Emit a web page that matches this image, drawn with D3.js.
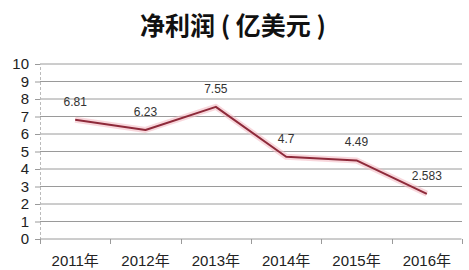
<!DOCTYPE html>
<html>
<head>
<meta charset="utf-8">
<script src="https://cdn.jsdelivr.net/npm/d3@7"></script>
<style>
  body { margin: 0; background: #fff; }
  svg { display: block; }
</style>
</head>
<body>
<div id="chart"></div>
<script>
var years = ["2011年", "2012年", "2013年", "2014年", "2015年", "2016年"];
var profit = [6.81, 6.23, 7.55, 4.7, 4.49, 2.583];
var profitLabels = ["6.81", "6.23", "7.55", "4.7", "4.49", "2.583"];
var yTicks = [0, 1, 2, 3, 4, 5, 6, 7, 8, 9, 10];

var svgWidth = 469;
var svgHeight = 270;
var margin = { top: 64, right: 7, bottom: 31, left: 40 };
var width = svgWidth - margin.left - margin.right;
var height = svgHeight - margin.top - margin.bottom;

var svg = d3.select("#chart")
  .append("svg")
  .attr("width", svgWidth)
  .attr("height", svgHeight);

// title
svg.append("text")
  .attr("x", 233)
  .attr("y", 35)
  .attr("text-anchor", "middle")
  .attr("font-family", "Noto Sans CJK SC")
  .attr("font-weight", "bold")
  .attr("font-size", 25)
  .attr("fill", "#111")
  .attr("xml:space", "preserve")
  .style("white-space", "pre")
  .text("净利润 ( 亿美元 )");

var chartGroup = svg.append("g")
  .attr("transform", `translate(${margin.left}, ${margin.top})`);

var xScale = d3.scaleBand().domain(years).range([0, width]);
var yScale = d3.scaleLinear().domain([0, 10]).range([height, 0]);

// gridlines
chartGroup.append("g")
  .selectAll("line")
  .data(yTicks.filter(d => d > 0))
  .enter()
  .append("line")
  .attr("x1", 0)
  .attr("x2", width)
  .attr("y1", d => yScale(d))
  .attr("y2", d => yScale(d))
  .attr("stroke", "#9a9a9a")
  .attr("stroke-width", 1);

// left axis
var leftAxis = d3.axisLeft(yScale).tickValues(yTicks).tickSize(5).tickPadding(6);
var gy = chartGroup.append("g").call(leftAxis);
gy.select(".domain").attr("stroke", "#bbb").attr("stroke-dasharray", "3,2");
gy.selectAll(".tick line").attr("stroke", "#9a9a9a");
gy.selectAll("text")
  .attr("font-family", "Liberation Sans, Arial")
  .attr("font-size", 15)
  .attr("fill", "#222");

// bottom axis
var bottomAxis = d3.axisBottom(xScale).tickSize(0).tickPadding(16);
var gx = chartGroup.append("g")
  .attr("transform", `translate(0, ${height})`)
  .call(bottomAxis);
gx.select(".domain").attr("stroke", "#9a9a9a").attr("d", `M0.5,0H${width - 0.5}`);
gx.selectAll("text")
  .attr("font-family", "Liberation Sans, Noto Sans CJK SC")
  .attr("font-size", 15)
  .attr("fill", "#222");

// category tick marks between bands
chartGroup.append("g")
  .selectAll("line")
  .data(years.concat(["end"]))
  .enter()
  .append("line")
  .attr("x1", (d, i) => Math.round(i * xScale.bandwidth()) + 0.5)
  .attr("x2", (d, i) => Math.round(i * xScale.bandwidth()) + 0.5)
  .attr("y1", height)
  .attr("y2", height + 5)
  .attr("stroke", "#9a9a9a");

var cx = d => xScale(d) + xScale.bandwidth() / 2;

var line = d3.line()
  .x((d, i) => cx(years[i]))
  .y(d => yScale(d));

// soft pink glow under the line
chartGroup.append("path")
  .datum(profit)
  .attr("d", line)
  .attr("fill", "none")
  .attr("stroke", "#f4bcc4")
  .attr("stroke-width", 6)
  .attr("stroke-linejoin", "round")
  .attr("opacity", 0.6);

chartGroup.append("path")
  .datum(profit)
  .attr("d", line)
  .attr("fill", "none")
  .attr("stroke", "#8e2a3a")
  .attr("stroke-width", 2)
  .attr("stroke-linejoin", "round");

// data labels
chartGroup.append("g")
  .selectAll("text")
  .data(profit)
  .enter()
  .append("text")
  .attr("x", (d, i) => cx(years[i]))
  .attr("y", d => yScale(d) - 14)
  .attr("text-anchor", "middle")
  .attr("font-family", "Liberation Sans, Arial")
  .attr("font-size", 12)
  .attr("fill", "#333")
  .text((d, i) => profitLabels[i]);
</script>
</body>
</html>
